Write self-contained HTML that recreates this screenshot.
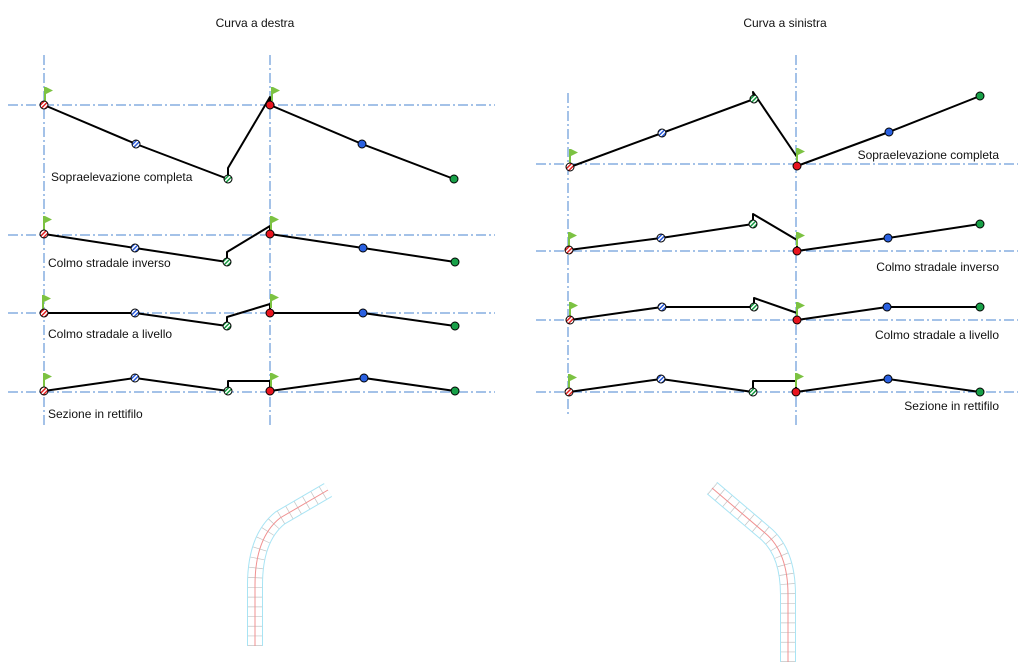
<!DOCTYPE html>
<html><head><meta charset="utf-8"><style>
html,body{margin:0;padding:0;background:#fff;}
svg{display:block;font-family:"Liberation Sans","DejaVu Sans",sans-serif;}
.ax{stroke:#4a86d0;stroke-width:1;stroke-dasharray:10 3 2 3;fill:none;}
.ln{stroke:#000;stroke-width:2;fill:none;stroke-linejoin:round;}
.lbl{font-size:12px;fill:#111;}
</style></head><body>
<svg width="1024" height="665" viewBox="0 0 1024 665">
<defs>
<pattern id="hr" patternUnits="userSpaceOnUse" width="3" height="3" patternTransform="rotate(45)"><rect width="3" height="3" fill="#fff"/><rect width="1.5" height="3" fill="#e02020"/></pattern>
<pattern id="hb" patternUnits="userSpaceOnUse" width="3" height="3" patternTransform="rotate(45)"><rect width="3" height="3" fill="#fff"/><rect width="1.5" height="3" fill="#2a5ad8"/></pattern>
<pattern id="hg" patternUnits="userSpaceOnUse" width="3" height="3" patternTransform="rotate(45)"><rect width="3" height="3" fill="#fff"/><rect width="1.5" height="3" fill="#149a40"/></pattern>
<g id="flag"><line x1="0" y1="0" x2="0" y2="-14" stroke="#7cc242" stroke-width="2"/><path d="M1,-14 L8,-10.5 L1,-7 Z" fill="#7cc242"/></g>
</defs>
<text x="255" y="27" text-anchor="middle" class="lbl">Curva a destra</text>
<text x="785" y="27" text-anchor="middle" class="lbl">Curva a sinistra</text>

<line class="ax" x1="44" y1="55" x2="44" y2="427"/>
<line class="ax" x1="270" y1="55" x2="270" y2="427"/>
<line class="ax" x1="8" y1="105" x2="495" y2="105"/>
<line class="ax" x1="8" y1="235" x2="495" y2="235"/>
<line class="ax" x1="8" y1="313" x2="495" y2="313"/>
<line class="ax" x1="8" y1="392" x2="495" y2="392"/>
<line class="ax" x1="568" y1="93" x2="568" y2="415"/>
<line class="ax" x1="796" y1="55" x2="796" y2="427"/>
<line class="ax" x1="536" y1="164" x2="1018" y2="164"/>
<line class="ax" x1="536" y1="251" x2="1018" y2="251"/>
<line class="ax" x1="536" y1="320" x2="1018" y2="320"/>
<line class="ax" x1="536" y1="392" x2="1018" y2="392"/>

<polyline class="ln" points="44,105 136,144 228,179 228,168 270,97 270,105 362,144 454,179"/>
<polyline class="ln" points="44,234 135,248 227,262 227,252 270,226 270,234 363,248 455,262"/>
<polyline class="ln" points="44,313 135,313 227,326 227,317 270,304 270,313 363,313 455,326"/>
<polyline class="ln" points="44,391 135,378 228,391 228,381 270,381 270,391 364,378 455,391"/>
<polyline class="ln" points="570,167 662,133 754,99 753,92 797,157 797,166 889,132 980,96"/>
<polyline class="ln" points="569,250 661,238 753,224 753,214 797,240 797,251 888,238 980,224"/>
<polyline class="ln" points="570,320 662,307 754,307 754,298 797,313 797,320 887,307 980,307"/>
<polyline class="ln" points="569,392 661,379 753,392 753,381 796,381 796,392 888,379 980,392"/>

<use href="#flag" x="45" y="101"/><use href="#flag" x="272" y="101"/>
<use href="#flag" x="44" y="230"/><use href="#flag" x="271" y="230"/>
<use href="#flag" x="43" y="309"/><use href="#flag" x="271" y="308"/>
<use href="#flag" x="44" y="387"/><use href="#flag" x="271" y="387"/>
<use href="#flag" x="570" y="163"/><use href="#flag" x="797" y="162"/>
<use href="#flag" x="569" y="246"/><use href="#flag" x="797" y="246"/>
<use href="#flag" x="570" y="316"/><use href="#flag" x="797" y="316"/>
<use href="#flag" x="569" y="388"/><use href="#flag" x="796" y="387"/>

<g stroke="#000" stroke-width="1">
<circle cx="44" cy="105" r="4" fill="url(#hr)"/><circle cx="136" cy="144" r="4" fill="url(#hb)"/><circle cx="228" cy="179" r="4" fill="url(#hg)"/>
<circle cx="270" cy="105" r="4" fill="#e8141e"/><circle cx="362" cy="144" r="4" fill="#2a60e0"/><circle cx="454" cy="179" r="4" fill="#18a048"/>
<circle cx="44" cy="234" r="4" fill="url(#hr)"/><circle cx="135" cy="248" r="4" fill="url(#hb)"/><circle cx="227" cy="262" r="4" fill="url(#hg)"/>
<circle cx="270" cy="234" r="4" fill="#e8141e"/><circle cx="363" cy="248" r="4" fill="#2a60e0"/><circle cx="455" cy="262" r="4" fill="#18a048"/>
<circle cx="44" cy="313" r="4" fill="url(#hr)"/><circle cx="135" cy="313" r="4" fill="url(#hb)"/><circle cx="227" cy="326" r="4" fill="url(#hg)"/>
<circle cx="270" cy="313" r="4" fill="#e8141e"/><circle cx="363" cy="313" r="4" fill="#2a60e0"/><circle cx="455" cy="326" r="4" fill="#18a048"/>
<circle cx="44" cy="391" r="4" fill="url(#hr)"/><circle cx="135" cy="378" r="4" fill="url(#hb)"/><circle cx="228" cy="391" r="4" fill="url(#hg)"/>
<circle cx="270" cy="391" r="4" fill="#e8141e"/><circle cx="364" cy="378" r="4" fill="#2a60e0"/><circle cx="455" cy="391" r="4" fill="#18a048"/>
<circle cx="570" cy="167" r="4" fill="url(#hr)"/><circle cx="662" cy="133" r="4" fill="url(#hb)"/><circle cx="754" cy="99" r="4" fill="url(#hg)"/>
<circle cx="797" cy="166" r="4" fill="#e8141e"/><circle cx="889" cy="132" r="4" fill="#2a60e0"/><circle cx="980" cy="96" r="4" fill="#18a048"/>
<circle cx="569" cy="250" r="4" fill="url(#hr)"/><circle cx="661" cy="238" r="4" fill="url(#hb)"/><circle cx="753" cy="224" r="4" fill="url(#hg)"/>
<circle cx="797" cy="251" r="4" fill="#e8141e"/><circle cx="888" cy="238" r="4" fill="#2a60e0"/><circle cx="980" cy="224" r="4" fill="#18a048"/>
<circle cx="570" cy="320" r="4" fill="url(#hr)"/><circle cx="662" cy="307" r="4" fill="url(#hb)"/><circle cx="754" cy="307" r="4" fill="url(#hg)"/>
<circle cx="797" cy="320" r="4" fill="#e8141e"/><circle cx="887" cy="307" r="4" fill="#2a60e0"/><circle cx="980" cy="307" r="4" fill="#18a048"/>
<circle cx="569" cy="392" r="4" fill="url(#hr)"/><circle cx="661" cy="379" r="4" fill="url(#hb)"/><circle cx="753" cy="392" r="4" fill="url(#hg)"/>
<circle cx="796" cy="392" r="4" fill="#e8141e"/><circle cx="888" cy="379" r="4" fill="#2a60e0"/><circle cx="980" cy="392" r="4" fill="#18a048"/>
</g>

<text x="51" y="181" class="lbl">Sopraelevazione completa</text>
<text x="48" y="267" class="lbl">Colmo stradale inverso</text>
<text x="48" y="338" class="lbl">Colmo stradale a livello</text>
<text x="48" y="418" class="lbl">Sezione in rettifilo</text>
<text x="999" y="159" text-anchor="end" class="lbl">Sopraelevazione completa</text>
<text x="999" y="271" text-anchor="end" class="lbl">Colmo stradale inverso</text>
<text x="999" y="339" text-anchor="end" class="lbl">Colmo stradale a livello</text>
<text x="999" y="410" text-anchor="end" class="lbl">Sezione in rettifilo</text>

<g fill="none">
<path d="M255,646 L255,585 Q255,538 280,518 L328,490" stroke="#a8e4f4" stroke-width="16"/>
<path d="M255,646 L255,585 Q255,538 280,518 L328,490" stroke="#fff" stroke-width="14"/>
<path d="M255,646 L255,585 Q255,538 280,518 L328,490" stroke="#888" stroke-width="14" stroke-dasharray="0.7 9" opacity="0.5"/>
<path d="M255,646 L255,585 Q255,538 280,518 L328,490" stroke="#f09090" stroke-width="1"/>
</g>
<g fill="none">
<path d="M788,662 L788,595 Q788,552 765,533 L712,488" stroke="#a8e4f4" stroke-width="16"/>
<path d="M788,662 L788,595 Q788,552 765,533 L712,488" stroke="#fff" stroke-width="14"/>
<path d="M788,662 L788,595 Q788,552 765,533 L712,488" stroke="#888" stroke-width="14" stroke-dasharray="0.7 9" opacity="0.5"/>
<path d="M788,662 L788,595 Q788,552 765,533 L712,488" stroke="#f09090" stroke-width="1"/>
</g>
</svg>
</body></html>
